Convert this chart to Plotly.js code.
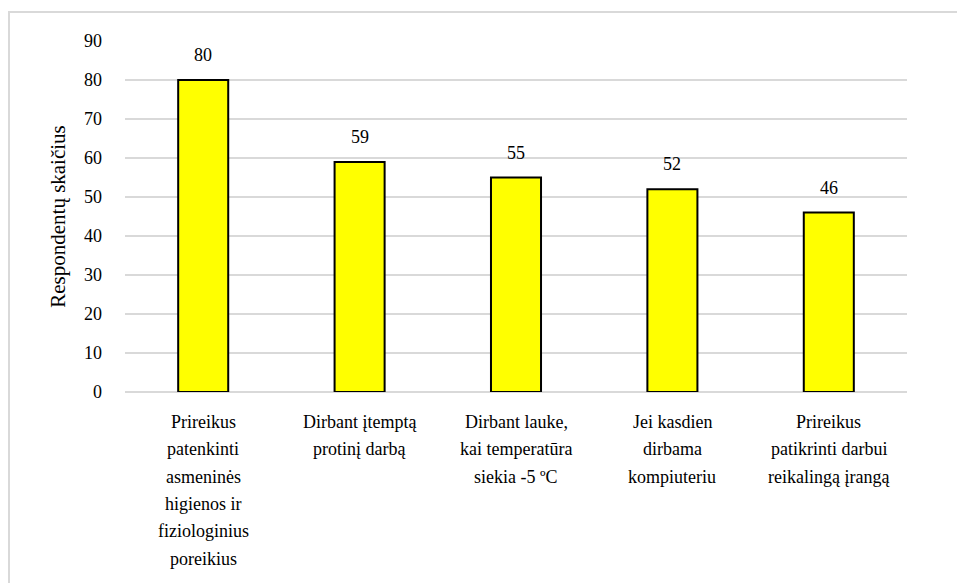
<!DOCTYPE html>
<html>
<head>
<meta charset="utf-8">
<script src="https://cdn.plot.ly/plotly-3.0.1.min.js"></script>
<style>
  html, body { margin: 0; padding: 0; background: #fff; }
  #frame { position: absolute; left: 8px; top: 11px; width: 1000px; height: 600px; border-left: 2px solid #d9d9d9; border-top: 2px solid #d9d9d9; }
  #chart { position: absolute; left: 0; top: 0; width: 957px; height: 583px; }
  #chart text { font-family: 'Liberation Serif', 'Times New Roman', serif !important; }
</style>
</head>
<body>
<div id="frame"></div>
<div id="chart"></div>
<script>
const categories = ["c1", "c2", "c3", "c4", "c5"];
const tickLabels = [
  "Prireikus<br>patenkinti<br>asmeninės<br>higienos ir<br>fiziologinius<br>poreikius",
  "Dirbant įtemptą<br>protinį darbą",
  "Dirbant lauke,<br>kai temperatūra<br>siekia -5 ºC",
  "Jei kasdien<br>dirbama<br>kompiuteriu",
  "Prireikus<br>patikrinti darbui<br>reikalingą įrangą"
];
const values = [80, 59, 55, 52, 46];
const yTicks = [0, 10, 20, 30, 40, 50, 60, 70, 80, 90];

const serif = "Liberation Serif";

const trace = {
  type: "bar",
  x: categories,
  y: values,
  marker: { color: "#ffff00", line: { color: "#000000", width: 2 } },
  width: 0.32,
  hoverinfo: "none"
};

const annotations = categories.map((c, i) => ({
  x: c, y: values[i], text: String(values[i]),
  showarrow: false, yanchor: "bottom", yshift: 13,
  font: { family: serif, size: 18, color: "#000" }
}));

// category labels, one annotation per line for Excel-like line spacing
categories.forEach((c, i) => {
  tickLabels[i].split("<br>").forEach((line, k) => {
    annotations.push({
      x: c, y: 0, text: line, showarrow: false,
      yanchor: "middle", yshift: -(30 + k * 27.3),
      font: { family: serif, size: 18, color: "#000" }
    });
  });
});

const layout = {
  width: 957, height: 583,
  margin: { l: 125, r: 50, t: 41, b: 191 },
  paper_bgcolor: "rgba(0,0,0,0)",
  plot_bgcolor: "rgba(0,0,0,0)",
  showlegend: false,
  font: { family: serif, color: "#000" },
  bargap: 0.68,
  xaxis: {
    tickvals: categories, showticklabels: false,
    showline: false, ticks: "", showgrid: false
  },
  yaxis: {
    range: [0, 90], tickvals: yTicks,
    showgrid: true, gridcolor: "#d9d9d9", gridwidth: 2,
    zeroline: true, zerolinecolor: "#d9d9d9", zerolinewidth: 2,
    showline: false, ticks: "", ticklabelstandoff: 22,
    tickfont: { family: serif, size: 18, color: "#000" },
    title: { text: "Respondentų skaičius", font: { family: serif, size: 21, color: "#000" }, standoff: 12 }
  },
  annotations: annotations
};

Plotly.newPlot("chart", [trace], layout, { displayModeBar: false, staticPlot: true });
</script>
</body>
</html>
